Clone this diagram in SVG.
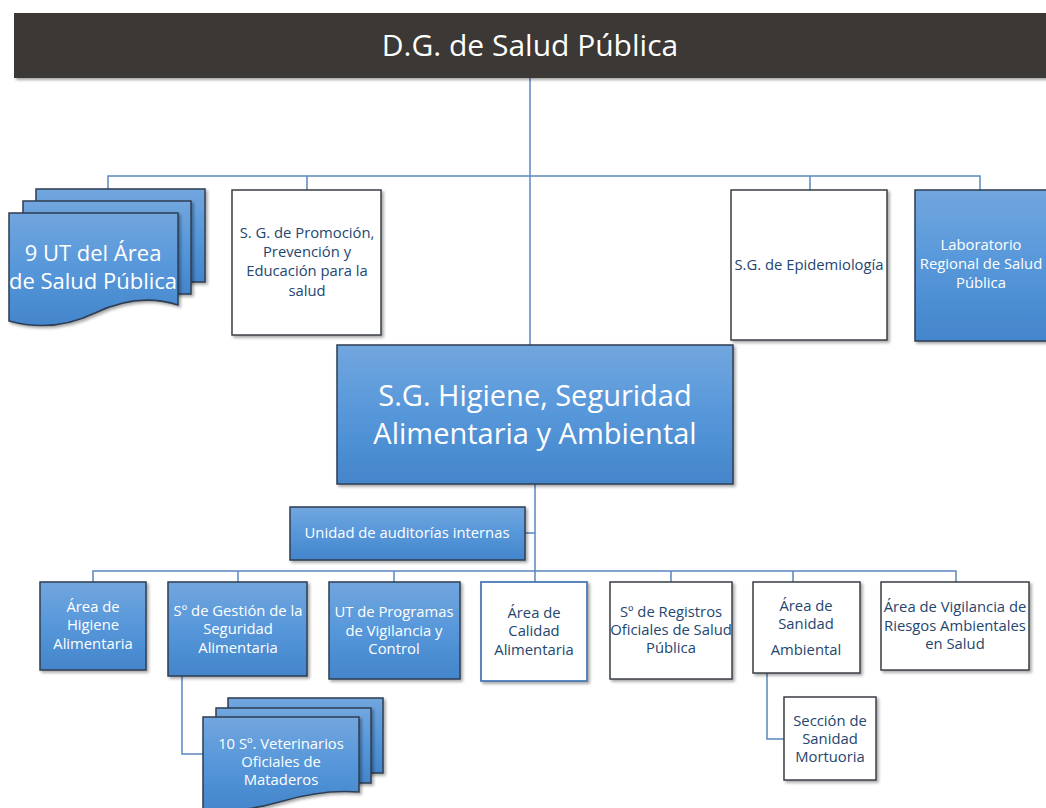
<svg xmlns="http://www.w3.org/2000/svg" width="1046" height="808" viewBox="0 0 1046 808">
<defs>
<linearGradient id="blue" x1="0" y1="0" x2="0" y2="1">
<stop offset="0" stop-color="#72a6de"/>
<stop offset="0.5" stop-color="#5697da"/>
<stop offset="1" stop-color="#4485cb"/>
</linearGradient>
<filter id="sh" x="-10%" y="-10%" width="130%" height="130%">
<feDropShadow dx="2" dy="2" stdDeviation="1.5" flood-color="#000" flood-opacity="0.35"/>
</filter>
</defs>
<style>
.b{fill:url(#blue);stroke:#2f3e52;stroke-width:1.5;filter:url(#sh)}
.w{fill:#fff;stroke:#3a3f45;stroke-width:1.5;filter:url(#sh)}
.wb{fill:#fff;stroke:#4a7ab5;stroke-width:1.8;filter:url(#sh)}
.tw{fill:#fff;font-family:"Open Sans","Noto Sans",sans-serif;text-anchor:middle}
.td{fill:#24466f;font-family:"Open Sans","Noto Sans",sans-serif;text-anchor:middle}
.s14{font-size:14.8px}
.c{fill:none;stroke:#5a86bd;stroke-width:1.5}
</style>
<rect width="1046" height="808" fill="#fff"/>
<g id="connectors">
<path class="c" d="M530,78 V345"/>
<path class="c" d="M108,190 V176 H980 V190"/>
<path class="c" d="M307,176 V190"/>
<path class="c" d="M810,176 V190"/>
<path class="c" d="M535,484 V582"/>
<path class="c" d="M525,533 H535"/>
<path class="c" d="M93,582 V571 H956 V582"/>
<path class="c" d="M238,571 V582"/>
<path class="c" d="M394,571 V582"/>
<path class="c" d="M671,571 V582"/>
<path class="c" d="M793,571 V582"/>
<path class="c" d="M182,676 V754 H203"/>
<path class="c" d="M767,673 V739 H784"/>
</g>
<g id="dg">
<rect x="14" y="13" width="1040" height="65" fill="#3a3836" filter="url(#sh)"/>
<text x="530" y="56" fill="#fff" font-family="Open Sans,Noto Sans,sans-serif" font-size="30" text-anchor="middle">D.G. de Salud Pública</text>
</g>
<g id="ut9">
<rect class="b" x="36" y="189" width="169" height="93"/>
<rect class="b" x="23" y="201" width="168" height="93"/>
<path class="b" d="M9,213 H178 V305 C150,296 122,300 95,313 C68,326 38,329 9,321 Z"/>
<text class="tw" font-size="22"><tspan x="93" y="261">9 UT del Área</tspan><tspan x="93" y="289">de Salud Pública</tspan></text>
</g>
<g id="promocion">
<rect class="w" x="232" y="190" width="149" height="145"/>
<text class="td s14"><tspan x="307" y="238">S. G. de Promoción,</tspan><tspan x="307" y="257">Prevención y</tspan><tspan x="307" y="276">Educación para la</tspan><tspan x="307" y="296">salud</tspan></text>
</g>
<g id="epidemiologia">
<rect class="w" x="731" y="190" width="156" height="150"/>
<text class="td s14" x="809" y="270">S.G. de Epidemiología</text>
</g>
<g id="laboratorio">
<rect class="b" x="915" y="190" width="135" height="151"/>
<text class="tw s14"><tspan x="981" y="250">Laboratorio</tspan><tspan x="981" y="269">Regional de Salud</tspan><tspan x="981" y="288">Pública</tspan></text>
</g>
<g id="sghiene">
<rect class="b" x="337" y="345" width="396" height="139"/>
<text class="tw" font-size="29"><tspan x="535" y="406">S.G. Higiene, Seguridad</tspan><tspan x="535" y="444">Alimentaria y Ambiental</tspan></text>
</g>
<g id="auditorias">
<rect class="b" x="290" y="507" width="235" height="53"/>
<text class="tw s14" x="407" y="538">Unidad de auditorías internas</text>
</g>
<g id="higiene">
<rect class="b" x="40" y="582" width="106" height="88"/>
<text class="tw s14"><tspan x="93" y="612">Área de</tspan><tspan x="93" y="630">Higiene</tspan><tspan x="93" y="649">Alimentaria</tspan></text>
</g>
<g id="gestion">
<rect class="b" x="168" y="582" width="139" height="94"/>
<text class="tw s14"><tspan x="238" y="616">Sº de Gestión de la</tspan><tspan x="238" y="634">Seguridad</tspan><tspan x="238" y="653">Alimentaria</tspan></text>
</g>
<g id="programas">
<rect class="b" x="329" y="582" width="131" height="97"/>
<text class="tw s14"><tspan x="394" y="617">UT de Programas</tspan><tspan x="394" y="636">de Vigilancia y</tspan><tspan x="394" y="654">Control</tspan></text>
</g>
<g id="calidad">
<rect class="wb" x="481" y="582" width="106" height="99"/>
<text class="td s14"><tspan x="534" y="618">Área de</tspan><tspan x="534" y="636">Calidad</tspan><tspan x="534" y="655">Alimentaria</tspan></text>
</g>
<g id="registros">
<rect class="w" x="610" y="582" width="122" height="97"/>
<text class="td s14"><tspan x="671" y="617">Sº de Registros</tspan><tspan x="671" y="635">Oficiales de Salud</tspan><tspan x="671" y="653">Pública</tspan></text>
</g>
<g id="sanidad">
<rect class="w" x="753" y="582" width="107" height="91"/>
<text class="td s14"><tspan x="806" y="611">Área de</tspan><tspan x="806" y="629">Sanidad</tspan><tspan x="806" y="655">Ambiental</tspan></text>
</g>
<g id="vigilancia">
<rect class="w" x="881" y="582" width="148" height="88"/>
<text class="td s14"><tspan x="955" y="612">Área de Vigilancia de</tspan><tspan x="955" y="631">Riesgos Ambientales</tspan><tspan x="955" y="649">en Salud</tspan></text>
</g>
<g id="mortuoria">
<rect class="w" x="784" y="697" width="92" height="83"/>
<text class="td s14"><tspan x="830" y="726">Sección de</tspan><tspan x="830" y="744">Sanidad</tspan><tspan x="830" y="762">Mortuoria</tspan></text>
</g>
<g id="veterinarios">
<rect class="b" x="228" y="698" width="155" height="75"/>
<rect class="b" x="216" y="708" width="155" height="75"/>
<path class="b" d="M203,717 H359 V792 C335,790 310,793 283,801 C260,808 230,812 203,810 Z"/>
<text class="tw s14"><tspan x="281" y="749">10 Sº. Veterinarios</tspan><tspan x="281" y="767">Oficiales de</tspan><tspan x="281" y="785">Mataderos</tspan></text>
</g>
</svg>
